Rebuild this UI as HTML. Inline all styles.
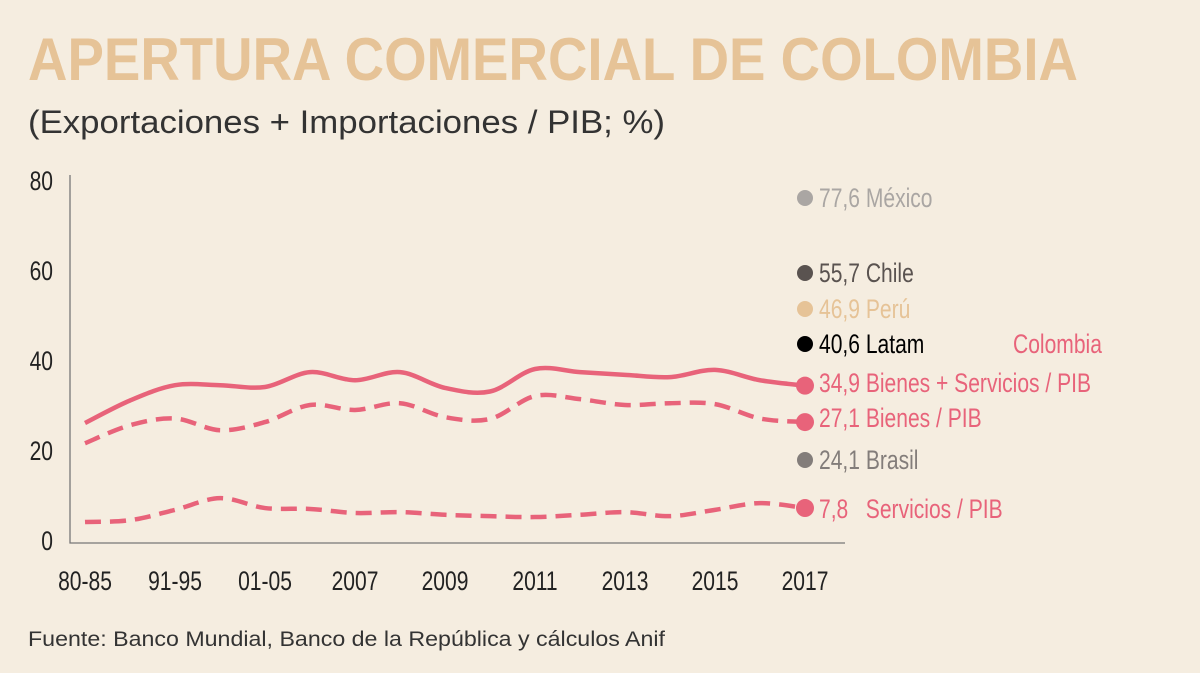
<!DOCTYPE html>
<html><head><meta charset="utf-8"><style>
body{margin:0;background:#f5ede0;}
svg{display:block;font-family:"Liberation Sans",sans-serif;}
</style></head><body>
<svg width="1200" height="673" viewBox="0 0 1200 673">
<rect width="1200" height="673" fill="#f5ede0"/>
<text x="28" y="80" font-family="Liberation Sans" font-weight="bold" font-size="60" fill="#e6c397" textLength="1050" lengthAdjust="spacingAndGlyphs">APERTURA COMERCIAL DE COLOMBIA</text>
<text x="28" y="133" font-family="Liberation Sans" font-size="32" fill="#333" textLength="637" lengthAdjust="spacingAndGlyphs">(Exportaciones + Importaciones / PIB; %)</text>
<text x="28" y="646" font-family="Liberation Sans" font-size="21" fill="#333" textLength="637" lengthAdjust="spacingAndGlyphs">Fuente: Banco Mundial, Banco de la República y cálculos Anif</text>
<g id="axes"></g>
<g id="series"></g>
<g id="labels"></g>
</svg>
<script>
const categories=["80-85","86-90","91-95","96-00","01-05","2006","2007","2008","2009","2010","2011","2012","2013","2014","2015","2016","2017"];
const tickLabels=["80-85","91-95","01-05","2007","2009","2011","2013","2015","2017"];
const yTicks=[0,20,40,60,80];
const totalVals=[26,31,34.4,34.4,34,37.3,35.5,37.3,33.8,33,38,37.3,36.7,36.2,37.8,35.5,34.3];
const bienesVals=[21.5,25.5,27,24.4,26.2,30,28.9,30.4,27.3,26.9,32,31.3,30,30.4,30.2,27,26.2];
const serviciosVals=[4,4.4,6.7,9.3,7.1,6.9,6,6.2,5.6,5.3,5.1,5.6,6.2,5.3,6.7,8.2,7.1];
const legendVals=[77.6,55.7,46.9,40.6,34.9,27.1,24.1,7.8];
const legendNames=["México","Chile","Perú","Latam","Bienes + Servicios / PIB","Bienes / PIB","Brasil","Servicios / PIB"];
const legendColors=["#aaa6a3","#5a5350","#e6c397","#000","#e8637a","#e8637a","#837d7a","#e8637a"];
const legendY=[197,272,308,343,382,417,459,508];

const NS="http://www.w3.org/2000/svg";
const x=i=>85+i*45;
const y=v=>540-v*4.5;
function mk(t,a,p){const e=document.createElementNS(NS,t);for(const k in a)e.setAttribute(k,a[k]);document.getElementById(p).appendChild(e);return e;}
function txt(s,px,py,size,fill,anchor,p){
 const t=mk("text",{x:0,y:0,"font-size":size,fill:fill,"text-anchor":anchor||"start",transform:"translate("+px+","+py+") scale(0.78,1)"},p);
 t.textContent=s;return t;}
const ax=mk("path",{d:"M70 175V543H845",fill:"none",stroke:"#777","stroke-width":1.3},"axes");


yTicks.forEach(v=>{const t=txt(String(v),53,y(v)+10,27,"#222","end","axes");

});
tickLabels.forEach(l=>{const i=categories.indexOf(l);const t=txt(l,x(i),590,27,"#222","middle","axes");

});
function line(vals,dash,name){
 const P=vals.map((v,i)=>[x(i),y(v)]);
 let d="M"+P[0][0]+" "+P[0][1];
 for(let i=0;i<P.length-1;i++){const p0=P[Math.max(i-1,0)],p1=P[i],p2=P[i+1],p3=P[Math.min(i+2,P.length-1)];
  const c1=[p1[0]+(p2[0]-p0[0])/6,p1[1]+(p2[1]-p0[1])/6],c2=[p2[0]-(p3[0]-p1[0])/6,p2[1]-(p3[1]-p1[1])/6];
  d+=" C"+c1[0]+" "+c1[1]+" "+c2[0]+" "+c2[1]+" "+p2[0]+" "+p2[1];}
 const p=mk("path",{d:d,fill:"none",stroke:"#e8637a","stroke-width":4.5,"stroke-dasharray":dash||"none"},"series");
 
 
 const c=mk("circle",{cx:x(vals.length-1),cy:y(vals[vals.length-1]),r:9,fill:"#e8637a"},"series");
 
 
}
line(totalVals,"","line-bienes-servicios");
line(bienesVals,"16 9","line-bienes");
line(serviciosVals,"16 9","line-servicios");
legendVals.forEach((v,i)=>{
 if(i!==4&&i!==5&&i!==7){const c=mk("circle",{cx:805,cy:legendY[i]+1,r:8,fill:legendColors[i]},"labels");
 
 }
 const t=txt(String(v).replace(".",",")+(i===7?"\u00a0\u00a0 ":" ")+legendNames[i],819,legendY[i]+10,27,legendColors[i],"start","labels");
 
 
});
const col=txt("Colombia",1013,353,27,"#e8637a","start","labels");


</script>
</body></html>
